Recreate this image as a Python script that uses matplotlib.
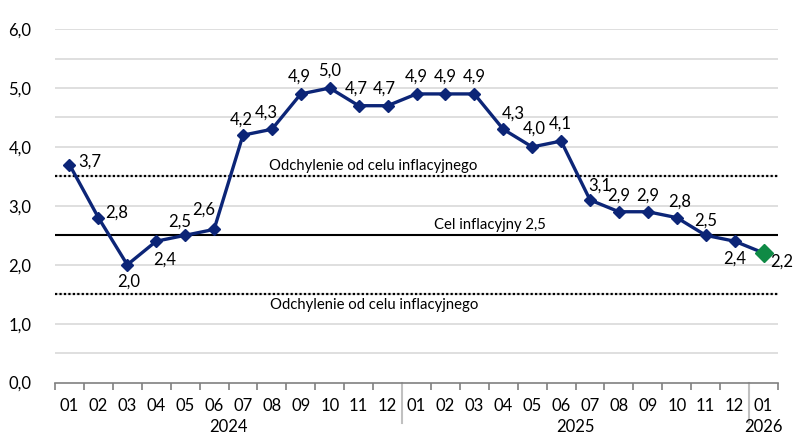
import numpy as np
import matplotlib.pyplot as plt

plt.rcParams['font.family'] = ['Lato', 'DejaVu Sans']

months = ['01', '02', '03', '04', '05', '06', '07', '08', '09', '10', '11', '12'] * 2 + ['01']
years = ['2024', '2025', '2026']
year_lengths = [12, 12, 1]
cpi = [3.7, 2.8, 2.0, 2.4, 2.5, 2.6, 4.2, 4.3, 4.9, 5.0, 4.7, 4.7,
       4.9, 4.9, 4.9, 4.3, 4.0, 4.1, 3.1, 2.9, 2.9, 2.8, 2.5, 2.4,
       2.2]
target = 2.5
band = (1.5, 3.5)
yticks = [0, 1, 2, 3, 4, 5, 6]

# przesunięcia etykiet wartości (piksele)
label_off = [(20, 3), (18, 5), (1, -17), (8, -18), (-5, 14), (-10, 20),
             (-2, 16), (-6, 17), (-2, 17), (0, 17), (-2, 17), (-3, 17),
             (0, 17), (0, 17), (0, 17), (10, 16), (2, 18), (-1, 17),
             (10, 14), (0, 16), (0, 16), (3, 16), (0, 15), (0, -17),
             (18, -9)]

navy = '#0c2577'
green = '#0f8a45'
fs = 12

fig = plt.figure(figsize=(8.1, 4.48), dpi=100)
ax = fig.add_axes([55 / 810, 0.146, (778 - 55) / 810, 0.935 - 0.146])

x = np.arange(len(cpi))
ax.set_xlim(-0.5, len(cpi) - 0.5)
ax.set_ylim(0, 6)

for g in np.arange(0.5, 6.01, 0.5):
    ax.axhline(g, color='#dcdcdc', lw=1.3, zorder=1)

ax.axhline(target, color='black', lw=1.5, zorder=2)
for b in band:
    ax.axhline(b, color='black', lw=1.6, ls=(0, (1, 1)), zorder=2)

ax.text(10.5, band[1] + 0.06, 'Odchylenie od celu inflacyjnego', ha='center', va='bottom', fontsize=10.7)
ax.text(14.55, target + 0.06, 'Cel inflacyjny 2,5', ha='center', va='bottom', fontsize=10.7)
ax.text(10.55, band[0] - 0.06, 'Odchylenie od celu inflacyjnego', ha='center', va='top', fontsize=10.7)

ax.plot(x[:-1], cpi[:-1], color=navy, lw=2.4, marker='D', ms=6.5, zorder=4)
ax.plot(x[-2:], cpi[-2:], color=navy, lw=2.4, zorder=4)
ax.plot(x[-1], cpi[-1], marker='D', ms=9, color=green, ls='none', zorder=5)

for xi, v, off in zip(x, cpi, label_off):
    ax.annotate(f'{v:.1f}'.replace('.', ','), (xi, v), xytext=off,
                textcoords='offset pixels', ha='center', va='center', fontsize=fs, zorder=6)

for s in ['left', 'top', 'right']:
    ax.spines[s].set_visible(False)
ax.spines['bottom'].set_color('#808080')
ax.spines['bottom'].set_linewidth(1.2)

ax.set_yticks(yticks)
ax.set_yticklabels([f'{t:.1f}'.replace('.', ',') for t in yticks], fontsize=fs)
ax.tick_params(axis='y', length=0, pad=17)

ax.set_xticks(np.arange(-0.5, len(cpi), 1))
ax.set_xticklabels([])
ax.tick_params(axis='x', length=5, color='#808080', width=1.2, direction='out')

tr = ax.get_xaxis_transform()
for xi, m in zip(x, months):
    ax.text(xi, -0.044, m, transform=tr, ha='center', va='top', fontsize=fs)
start = 0
for yr, n in zip(years, year_lengths):
    ax.text(start + (n - 1) / 2, -0.104, yr, transform=tr, ha='center', va='top', fontsize=fs)
    if start > 0:
        ax.plot([start - 0.5, start - 0.5], [0, -0.113], transform=tr, color='#c0c0c0',
                lw=1.5, clip_on=False)
    start += n

fig.savefig('out.png', dpi=100, facecolor='white')
